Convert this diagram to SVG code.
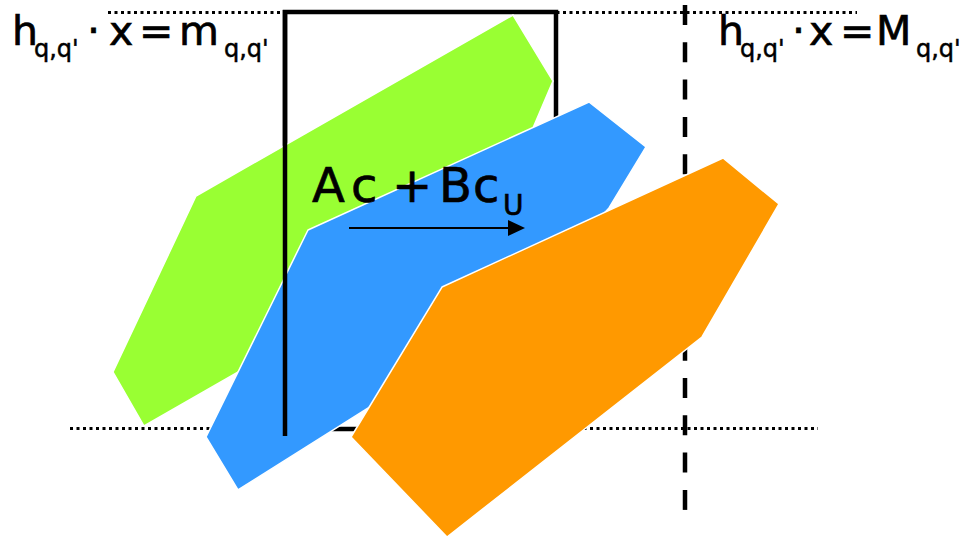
<svg xmlns="http://www.w3.org/2000/svg" width="965" height="537" viewBox="0 0 965 537">
<style>
.dot{stroke:#000;stroke-width:3.2;stroke-dasharray:3 3.5;fill:none}
.dash{stroke:#000;stroke-width:4.5;stroke-dasharray:20 17.3;fill:none}
.box{stroke:#000;stroke-width:4.5;fill:none}
.poly{stroke:#fff;stroke-width:1.5}
.t{font-family:"DejaVu Sans","Noto Sans",sans-serif;fill:#000;stroke:#000;stroke-width:0.7}
.big{font-size:41px}
.sub{font-size:24px;stroke-width:0.5}
.ac{font-size:48px}
.su{font-size:28px}
</style>
<rect width="965" height="537" fill="#fff"/>
<g id="guides">
<line class="dot" x1="108" y1="12.5" x2="857" y2="12.5"/>
<line class="dot" x1="70" y1="428.5" x2="818" y2="428.5"/>
<line class="dash" x1="685" y1="5" x2="685" y2="512"/>
<path class="box" d="M285,429 V12 H556 V429 Z"/>
</g>
<g id="green"><polygon class="poly" fill="#99FF33" points="196,196 513,15 553,81 530,135 240,371 144,426 113,372"/></g>
<g id="blue"><polygon class="poly" fill="#3399FF" points="308,230 589,102 646,147 609,208 500,325 238,490 206,437"/></g>
<g id="orange"><polygon class="poly" fill="#FF9900" points="442,287 723,158 779,204 702,337 447,537 351,437"/></g>
<g id="front">
<line x1="285" y1="10" x2="285" y2="436" stroke="#000" stroke-width="4.5"/>
</g>
<g id="connectors">
<line x1="349" y1="228" x2="510" y2="228" stroke="#000" stroke-width="2"/>
<polygon points="525,228 508,220 508,236" fill="#000"/>
</g>
<g id="label-left">
<text class="t big" x="12" y="45">h</text>
<text class="t sub" x="34" y="57">q,q'</text>
<text class="t big" x="87" y="45">·</text>
<text class="t big" x="109" y="45">x</text>
<text class="t big" x="139" y="45">=</text>
<text class="t big" x="179" y="45">m</text>
<text class="t sub" x="224" y="57">q,q'</text>
</g>
<g id="label-right">
<text class="t big" x="718" y="45">h</text>
<text class="t sub" x="740" y="57">q,q'</text>
<text class="t big" x="792" y="45">·</text>
<text class="t big" x="809" y="45">x</text>
<text class="t big" x="840" y="45">=</text>
<text class="t big" x="876" y="45">M</text>
<text class="t sub" x="916" y="57">q,q'</text>
</g>
<g id="label-ac">
<text class="t ac" x="312" y="202">A</text>
<text class="t ac" x="351" y="202">c</text>
<text class="t ac" x="392" y="202">+</text>
<text class="t ac" x="439" y="202">B</text>
<text class="t ac" x="473" y="202">c</text>
<text class="t su" x="503" y="215">U</text>
</g>
</svg>
